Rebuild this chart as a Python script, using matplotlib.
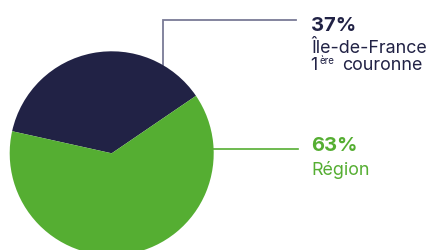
import matplotlib
matplotlib.use("Agg")
import matplotlib.pyplot as plt

labels = ["Île-de-France 1ère couronne", "Région"]
values = [37, 63]
pct_labels = ["37%", "63%"]
colors = ["#212245", "#55ae32"]

W, H = 440, 251
fig = plt.figure(figsize=(W / 100, H / 100), dpi=100)
ax = fig.add_axes([0, 0, 1, 1])

cx, cy, r = 111.7, H - 154.3, 102
ax.pie(values, colors=colors, startangle=34.3, counterclock=True,
       center=(cx, cy), radius=r, wedgeprops=dict(linewidth=0))
ax.set_xlim(0, W)
ax.set_ylim(0, H)
ax.set_aspect('equal')
ax.axis('off')

font = "Inter"
navy_line = "#7a7b96"
# leader line navy
ax.plot([163.3, 163.3, 296], [H - 66, H - 21, H - 21], color=navy_line, lw=1.3,
        solid_joinstyle='miter', zorder=0)
# leader line green
ax.plot([213, 297.7], [H - 150, H - 150], color=colors[1], lw=1.2, zorder=0)

big = 14.5
small = 12.9
ax.text(311, H - 31, pct_labels[0], color=colors[0], fontsize=big, fontweight='bold',
        family=font, va='baseline', ha='left')
ax.text(311, H - 52.7, "Île-de-France", color=colors[0], fontsize=small,
        family=font, va='baseline', ha='left')
ax.text(310.5, H - 70, "1", color=colors[0], fontsize=small,
        family=font, va='baseline', ha='left')
ax.text(320, H - 64.5, "ère", color=colors[0], fontsize=7,
        family=font, va='baseline', ha='left')
ax.text(342, H - 70, "couronne", color=colors[0], fontsize=small,
        family=font, va='baseline', ha='left')

ax.text(311, H - 151, pct_labels[1], color=colors[1], fontsize=big, fontweight='bold',
        family=font, va='baseline', ha='left')
ax.text(311, H - 175, "Région", color=colors[1], fontsize=small,
        family=font, va='baseline', ha='left')

fig.savefig("out.png", dpi=100)
